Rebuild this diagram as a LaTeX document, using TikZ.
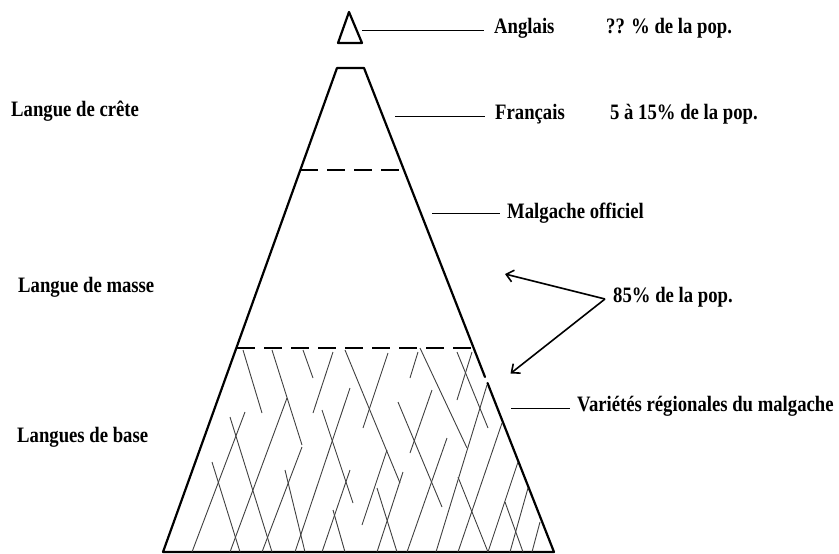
\documentclass[tikz,border=0pt]{standalone}
\usepackage{fontspec}
\setmainfont{Liberation Serif}[FakeStretch=0.85]
\usetikzlibrary{arrows.meta}
\tikzset{
  lbl/.style={anchor=base west, inner sep=0pt, font=\fontsize{22}{26}\selectfont\bfseries},
  pyr/.style={line width=2.2pt, line cap=round, line join=round},
  dsh/.style={line width=2.6pt, dash pattern=on 18pt off 9pt},
  hat/.style={line width=0.9pt, draw=black!75},
  lead/.style={line width=1pt},
  arr/.style={line width=1.6pt, -{Straight Barb[length=7pt,width=12pt,line width=1.6pt]}}
}
\begin{document}
\begin{tikzpicture}[x=1pt,y=-1pt]
\path[use as bounding box, fill=white] (0,0) rectangle (839,554);

% small top triangle
\coordinate (ta) at (349,12);
\coordinate (tl) at (338,43);
\coordinate (tr) at (362,43);
\draw[pyr] (ta) -- (tl) -- (tr) -- cycle;

% main truncated pyramid
\coordinate (pl) at (337,68);
\coordinate (pr) at (364,68);
\coordinate (bl) at (163,552);
\coordinate (br) at (554,552);
\coordinate (gap1) at (485,377);
\coordinate (gap2) at (487.5,383);
\draw[pyr] (br) -- (bl) -- (pl) -- (pr) -- (gap1);
\draw[pyr] (gap2) -- (br);

% dashed levels
\coordinate (d1l) at (300,170);
\coordinate (d1r) at (404,170);
\coordinate (d2l) at (237,348);
\coordinate (d2r) at (473,348);
\draw[dsh] (d1l) -- (d1r);
\draw[dsh] (d2l) -- (d2r);

% hatching
\foreach \ax/\ay/\bx/\by in {
 243/350/262/413, 272/350/302/445, 303/350/313/378, 345/350/400/483,
 230/417/272/552, 212/462/240/552, 285/470/305/552, 322/410/353/503,
 333/510/345/552, 420/348/467/448, 457/352/488/428, 398/402/442/507,
 458/477/488/552, 377/488/397/552, 505/502/523/552,
 245/412/192/552, 287/398/230/552, 333/352/313/413, 350/388/295/552,
 302/447/262/552, 350/470/322/552, 388/353/363/428, 418/352/410/378,
 432/390/410/453, 447/438/407/552, 472/352/457/400, 487/385/436/552,
 502/423/458/552, 518/462/488/552, 528/488/510/552, 540/522/532/552,
 403/472/377/552, 387/450/362/525}
 \draw[hat] (\ax,\ay) -- (\bx,\by);

% labels
\node[lbl] (anglais) at (494,34) {Anglais};
\node[lbl] (pctA) at (606,34) {?? \% de la pop.};
\node[lbl] (crete) at (11,116) {Langue de crête};
\node[lbl] (francais) at (495,119) {Français};
\node[lbl] (pctF) at (610,119) {5 à 15\% de la pop.};
\node[lbl] (malg) at (507,218) {Malgache officiel};
\node[lbl] (masse) at (18,292) {Langue de masse};
\node[lbl] (pct85) at (613,302) {85\% de la pop.};
\node[lbl] (base) at (17,442) {Langues de base};
\node[lbl] (varietes) at (577,411) {Variétés régionales du malgache};

% leader lines
\coordinate (lA1) at (362,30);  \coordinate (lA2) at (484,30);
\coordinate (lF1) at (395,116); \coordinate (lF2) at (485,116);
\coordinate (lM1) at (432,213); \coordinate (lM2) at (500,213);
\coordinate (lV1) at (511,408); \coordinate (lV2) at (570,408);
\draw[lead] (lA1) -- (lA2);
\draw[lead] (lF1) -- (lF2);
\draw[lead] (lM1) -- (lM2);
\draw[lead] (lV1) -- (lV2);

% arrows
\coordinate (ao) at (605,299);
\coordinate (at1) at (505,274);
\coordinate (at2) at (510.5,373.5);
\draw[arr] (ao) -- (at1);
\draw[arr] (ao) -- (at2);
\end{tikzpicture}
\end{document}
